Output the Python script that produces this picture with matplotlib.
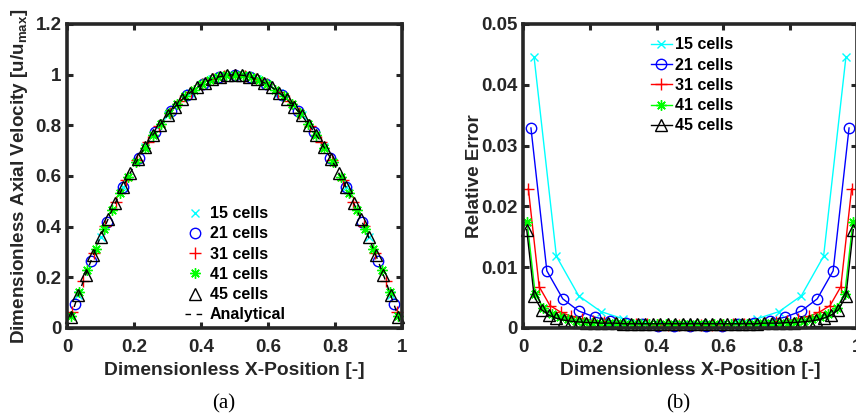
import matplotlib
matplotlib.use('Agg')
import matplotlib.pyplot as plt

plt.rcParams['font.family'] = ['Liberation Sans', 'DejaVu Sans']
plt.rcParams['font.weight'] = 'bold'
plt.rcParams['mathtext.fontset'] = 'custom'
plt.rcParams['mathtext.rm'] = 'Liberation Sans:bold'
plt.rcParams['mathtext.bf'] = 'Liberation Sans:bold'

# cell-centre positions
x15 = [0.0333, 0.1000, 0.1667, 0.2333, 0.3000, 0.3667, 0.4333, 0.5000, 0.5667, 0.6333,
       0.7000, 0.7667, 0.8333, 0.9000, 0.9667]
x21 = [0.0238, 0.0714, 0.1190, 0.1667, 0.2143, 0.2619, 0.3095, 0.3571, 0.4048, 0.4524,
       0.5000, 0.5476, 0.5952, 0.6429, 0.6905, 0.7381, 0.7857, 0.8333, 0.8810, 0.9286, 0.9762]
x31 = [0.0161, 0.0484, 0.0806, 0.1129, 0.1452, 0.1774, 0.2097, 0.2419, 0.2742, 0.3065,
       0.3387, 0.3710, 0.4032, 0.4355, 0.4677, 0.5000, 0.5323, 0.5645, 0.5968, 0.6290,
       0.6613, 0.6935, 0.7258, 0.7581, 0.7903, 0.8226, 0.8548, 0.8871, 0.9194, 0.9516, 0.9839]
x41 = [0.0122, 0.0366, 0.0610, 0.0854, 0.1098, 0.1341, 0.1585, 0.1829, 0.2073, 0.2317,
       0.2561, 0.2805, 0.3049, 0.3293, 0.3537, 0.3780, 0.4024, 0.4268, 0.4512, 0.4756,
       0.5000, 0.5244, 0.5488, 0.5732, 0.5976, 0.6220, 0.6463, 0.6707, 0.6951, 0.7195,
       0.7439, 0.7683, 0.7927, 0.8171, 0.8415, 0.8659, 0.8902, 0.9146, 0.9390, 0.9634, 0.9878]
x45 = [0.0111, 0.0333, 0.0556, 0.0778, 0.1000, 0.1222, 0.1444, 0.1667, 0.1889, 0.2111,
       0.2333, 0.2556, 0.2778, 0.3000, 0.3222, 0.3444, 0.3667, 0.3889, 0.4111, 0.4333,
       0.4556, 0.4778, 0.5000, 0.5222, 0.5444, 0.5667, 0.5889, 0.6111, 0.6333, 0.6556,
       0.6778, 0.7000, 0.7222, 0.7444, 0.7667, 0.7889, 0.8111, 0.8333, 0.8556, 0.8778,
       0.9000, 0.9222, 0.9444, 0.9667, 0.9889]

# dimensionless axial velocity
u15 = [0.129, 0.360, 0.556, 0.716, 0.840, 0.929, 0.982, 1.000, 0.982, 0.929, 0.840, 0.716,
       0.556, 0.360, 0.129]
u21 = [0.093, 0.265, 0.420, 0.556, 0.673, 0.773, 0.855, 0.918, 0.964, 0.991, 1.000, 0.991,
       0.964, 0.918, 0.855, 0.773, 0.673, 0.556, 0.420, 0.265, 0.093]
u31 = [0.063, 0.184, 0.297, 0.401, 0.496, 0.584, 0.663, 0.734, 0.796, 0.850, 0.896, 0.933,
       0.963, 0.983, 0.996, 1.000, 0.996, 0.983, 0.963, 0.933, 0.896, 0.850, 0.796, 0.734,
       0.663, 0.584, 0.496, 0.401, 0.297, 0.184, 0.063]
u41 = [0.048, 0.141, 0.229, 0.312, 0.391, 0.465, 0.534, 0.598, 0.657, 0.712, 0.762, 0.807,
       0.848, 0.883, 0.914, 0.941, 0.962, 0.979, 0.990, 0.998, 1.000, 0.998, 0.990, 0.979,
       0.962, 0.941, 0.914, 0.883, 0.848, 0.807, 0.762, 0.712, 0.657, 0.598, 0.534, 0.465,
       0.391, 0.312, 0.229, 0.141, 0.048]
u45 = [0.044, 0.129, 0.210, 0.287, 0.360, 0.429, 0.494, 0.556, 0.613, 0.666, 0.716, 0.761,
       0.802, 0.840, 0.874, 0.903, 0.929, 0.951, 0.968, 0.982, 0.992, 0.998, 1.000, 0.998,
       0.992, 0.982, 0.968, 0.951, 0.929, 0.903, 0.874, 0.840, 0.802, 0.761, 0.716, 0.666,
       0.613, 0.556, 0.494, 0.429, 0.360, 0.287, 0.210, 0.129, 0.044]

# analytical profile
ana_x = [0.0, 0.025, 0.05, 0.075, 0.1, 0.125, 0.15, 0.175, 0.2, 0.225, 0.25, 0.275, 0.3,
         0.325, 0.35, 0.375, 0.4, 0.425, 0.45, 0.475, 0.5, 0.525, 0.55, 0.575, 0.6, 0.625,
         0.65, 0.675, 0.7, 0.725, 0.75, 0.775, 0.8, 0.825, 0.85, 0.875, 0.9, 0.925, 0.95,
         0.975, 1.0]
ana_u = [0.0, 0.0975, 0.19, 0.2775, 0.36, 0.4375, 0.51, 0.5775, 0.64, 0.6975, 0.75, 0.7975,
         0.84, 0.8775, 0.91, 0.9375, 0.96, 0.9775, 0.99, 0.9975, 1.0, 0.9975, 0.99, 0.9775,
         0.96, 0.9375, 0.91, 0.8775, 0.84, 0.7975, 0.75, 0.6975, 0.64, 0.5775, 0.51, 0.4375,
         0.36, 0.2775, 0.19, 0.0975, 0.0]

# relative error
e15 = [0.0445, 0.0118, 0.0053, 0.0027, 0.0015, 0.0008, 0.0004, 0.0003, 0.0004, 0.0008,
       0.0015, 0.0027, 0.0053, 0.0118, 0.0445]
e21 = [0.0329, 0.0094, 0.0048, 0.0028, 0.0018, 0.0012, 0.0009, 0.0006, 0.0004, 0.0003,
       0.0003, 0.0003, 0.0004, 0.0006, 0.0009, 0.0012, 0.0018, 0.0028, 0.0048, 0.0094, 0.0329]
e31 = [0.0229, 0.0068, 0.0037, 0.0026, 0.0019, 0.0015, 0.0012, 0.0010, 0.0008, 0.0007,
       0.0006, 0.0006, 0.0005, 0.0005, 0.0005, 0.0005, 0.0005, 0.0005, 0.0005, 0.0006,
       0.0006, 0.0007, 0.0008, 0.0010, 0.0012, 0.0015, 0.0019, 0.0026, 0.0037, 0.0068, 0.0229]
e41 = [0.0175, 0.0056, 0.0033, 0.0023, 0.0018, 0.0014, 0.0012, 0.0010, 0.0009, 0.0009,
       0.0008, 0.0008, 0.0007, 0.0007, 0.0007, 0.0007, 0.0007, 0.0007, 0.0007, 0.0007,
       0.0007, 0.0007, 0.0007, 0.0007, 0.0007, 0.0007, 0.0007, 0.0007, 0.0007, 0.0008,
       0.0008, 0.0009, 0.0009, 0.0010, 0.0012, 0.0014, 0.0018, 0.0023, 0.0033, 0.0056, 0.0175]
e45 = [0.0162, 0.0052, 0.0030, 0.0021, 0.0016, 0.0013, 0.0011, 0.0010, 0.0009, 0.0009,
       0.0008, 0.0008, 0.0008, 0.0007, 0.0007, 0.0007, 0.0007, 0.0007, 0.0007, 0.0007,
       0.0007, 0.0007, 0.0007, 0.0007, 0.0007, 0.0007, 0.0007, 0.0007, 0.0007, 0.0007,
       0.0007, 0.0007, 0.0008, 0.0008, 0.0008, 0.0009, 0.0009, 0.0010, 0.0011, 0.0013,
       0.0016, 0.0021, 0.0030, 0.0052, 0.0162]

labels = ['15 cells', '21 cells', '31 cells', '41 cells', '45 cells']
colors = ['#00ffff', '#0000ff', '#ff0000', '#00ff00', '#000000']
markers = ['x', 'o', '+', (8, 2, 0), '^']
msizes = [6, 7.5, 8, 7.5, 8.5]
xs = [x15, x21, x31, x41, x45]
us = [u15, u21, u31, u41, u45]
es = [e15, e21, e31, e41, e45]

spine_col = '#262626'


def style_axes(ax):
    for s in ax.spines.values():
        s.set_linewidth(2.6)
        s.set_color(spine_col)
    ax.tick_params(direction='in', length=4, width=2.2, colors=spine_col,
                   top=True, right=True, labelsize=13.5, pad=8)
    ax.tick_params(axis='y', pad=4)
    for lab in ax.get_xticklabels() + ax.get_yticklabels():
        lab.set_fontweight('bold')
        lab.set_color('#262626')


fig = plt.figure(figsize=(8.56, 4.16), dpi=100)

# (a) velocity profile
ax1 = fig.add_axes([67 / 856, 88 / 416, 335 / 856, 304 / 416])
for x, u, c, m, ms, lab in zip(xs, us, colors, markers, msizes, labels):
    ax1.plot(x, u, linestyle='none', marker=m, color=c, markersize=ms,
             markerfacecolor='none', markeredgewidth=1.0, label=lab, clip_on=False)
ax1.plot(ana_x, ana_u, linestyle=(0, (4, 4)), color='k', linewidth=1.0, label='Analytical')
ax1.set_xlim(0, 1)
ax1.set_ylim(0, 1.2)
ax1.set_xticks([0, 0.2, 0.4, 0.6, 0.8, 1])
ax1.set_xticklabels(['0', '0.2', '0.4', '0.6', '0.8', '1'])
ax1.set_yticks([0, 0.2, 0.4, 0.6, 0.8, 1, 1.2])
ax1.set_yticklabels(['0', '0.2', '0.4', '0.6', '0.8', '1', '1.2'])
style_axes(ax1)
ax1.set_xlabel('Dimensionless X-Position [-]', fontsize=13.9, fontweight='bold',
               color='#262626', labelpad=4.5)
ax1.set_ylabel(r'Dimensionless Axial Velocity [u/u$_{\mathbf{max}}$]', fontsize=13.6,
               fontweight='bold', color='#262626', labelpad=4)
ax1.legend(loc='upper left', bbox_to_anchor=(0.352, 0.401), frameon=False, fontsize=11.5,
           handlelength=1.25, handletextpad=0.3, labelspacing=0.33, borderpad=0,
           borderaxespad=0)
fig.text(224 / 856, 1 - 404 / 416, '(a)', family='Liberation Serif', fontweight='normal',
         fontsize=15, ha='center', va='center')

# (b) relative error
ax2 = fig.add_axes([523 / 856, 88 / 416, 334 / 856, 304 / 416])
for x, e, c, m, ms, lab in zip(xs, es, colors, markers, msizes, labels):
    ax2.plot(x, e, marker=m, color=c, markersize=ms, linewidth=1.0,
             markerfacecolor='none', markeredgewidth=1.0, label=lab, clip_on=False)
ax2.set_xlim(0, 1)
ax2.set_ylim(0, 0.05)
ax2.set_xticks([0, 0.2, 0.4, 0.6, 0.8, 1])
ax2.set_xticklabels(['0', '0.2', '0.4', '0.6', '0.8', '1'])
ax2.set_yticks([0, 0.01, 0.02, 0.03, 0.04, 0.05])
ax2.set_yticklabels(['0', '0.01', '0.02', '0.03', '0.04', '0.05'])
style_axes(ax2)
ax2.set_xlabel('Dimensionless X-Position [-]', fontsize=13.9, fontweight='bold',
               color='#262626', labelpad=4.5)
ax2.set_ylabel('Relative Error', fontsize=13.6, fontweight='bold', color='#262626',
               labelpad=-1.5)
ax2.legend(loc='upper left', bbox_to_anchor=(0.383, 0.956), frameon=False, fontsize=11.5,
           handlelength=1.3, handletextpad=0.2, labelspacing=0.33, borderpad=0,
           borderaxespad=0)
fig.text(678 / 856, 1 - 404 / 416, '(b)', family='Liberation Serif', fontweight='normal',
         fontsize=15, ha='center', va='center')

fig.savefig('out.png', dpi=100)
